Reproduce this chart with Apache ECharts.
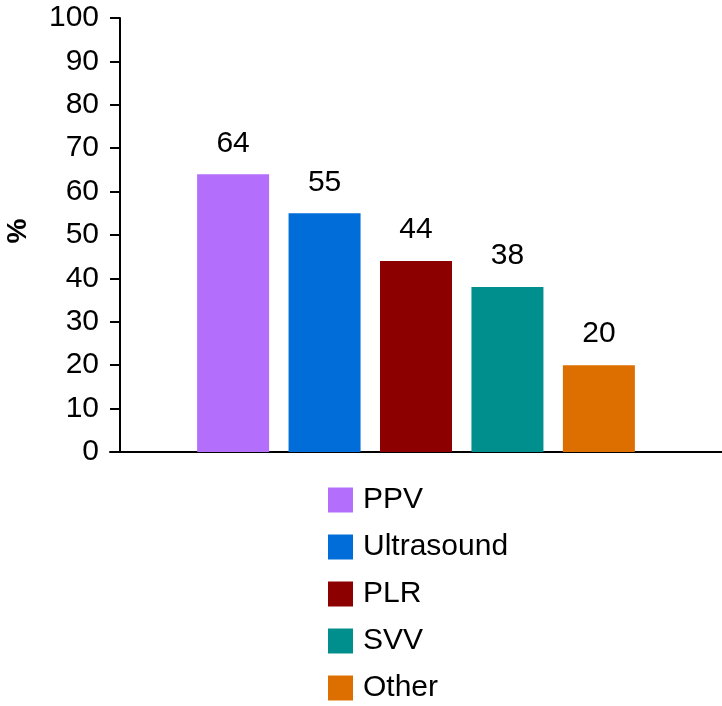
<!DOCTYPE html>
<html>
<head>
<meta charset="utf-8">
<script src="https://cdn.jsdelivr.net/npm/echarts@6/dist/echarts.min.js"></script>
<style>
html, body { margin: 0; padding: 0; background: #fff; }
#chart { width: 722px; height: 706px; }
</style>
</head>
<body>
<div id="chart"></div>
<script>
// 数据
var methods = ['PPV', 'Ultrasound', 'PLR', 'SVV', 'Other'];
var percents = [64, 55, 44, 38, 20];
var colors = ['#b46efc', '#006dd9', '#8c0000', '#008f8c', '#dd6e00'];
var yTicks = [0, 10, 20, 30, 40, 50, 60, 70, 80, 90, 100];

var FONT = '"Liberation Sans", Arial, sans-serif';

var chart = echarts.init(document.getElementById('chart'));

var series = [];
for (var i = 0; i < methods.length; i++) {
	series.push({
		name: methods[i],
		type: 'bar',
		xAxisIndex: 0,
		yAxisIndex: 0,
		data: [percents[i]],
		barWidth: 72,
		barGap: '27%',
		itemStyle: { color: colors[i] },
		label: {
			show: true,
			position: 'top',
			distance: 16,
			color: '#000',
			fontSize: 30,
			fontFamily: FONT
		}
	});
}

var option = {
	backgroundColor: '#fff',
	animation: false,
	grid: [
		// 柱子区域
		{ left: 120, right: 10, top: 18, bottom: 254, outerBoundsMode: 'none' },
		// 只画横轴线
		{ left: 110, right: 0, top: 18, bottom: 254, outerBoundsMode: 'none' }
	],
	xAxis: [
		{
			type: 'category',
			gridIndex: 0,
			data: [''],
			axisLine: { show: false },
			axisTick: { show: false },
			axisLabel: { show: false }
		},
		{
			type: 'category',
			gridIndex: 1,
			data: [''],
			axisLine: { show: true, lineStyle: { color: '#000', width: 2 } },
			axisTick: { show: false },
			axisLabel: { show: false }
		}
	],
	yAxis: [
		{
			type: 'value',
			gridIndex: 0,
			min: yTicks[0],
			max: yTicks[yTicks.length - 1],
			interval: 10,
			name: '%',
			nameLocation: 'middle',
			nameGap: 88,
			nameTextStyle: { fontSize: 28, fontWeight: 'bold', color: '#000', fontFamily: FONT, padding: [0, 0, 0, 8] },
			axisLine: { show: true, lineStyle: { color: '#000', width: 2 } },
			axisTick: { show: true, length: 10, lineStyle: { color: '#000', width: 2 } },
			axisLabel: { fontSize: 30, color: '#000', margin: 21, fontFamily: FONT },
			splitLine: { show: false }
		},
		{
			type: 'value',
			gridIndex: 1,
			show: false
		}
	],
	legend: {
		orient: 'vertical',
		left: 328,
		top: 485,
		height: 240,
		padding: 0,
		itemWidth: 25,
		itemHeight: 25,
		itemGap: 17,
		icon: 'rect',
		data: methods,
		textStyle: { fontSize: 30, color: '#000', fontFamily: FONT, padding: [0, 0, 0, 5] }
	},
	series: series
};

chart.setOption(option);
</script>
</body>
</html>
